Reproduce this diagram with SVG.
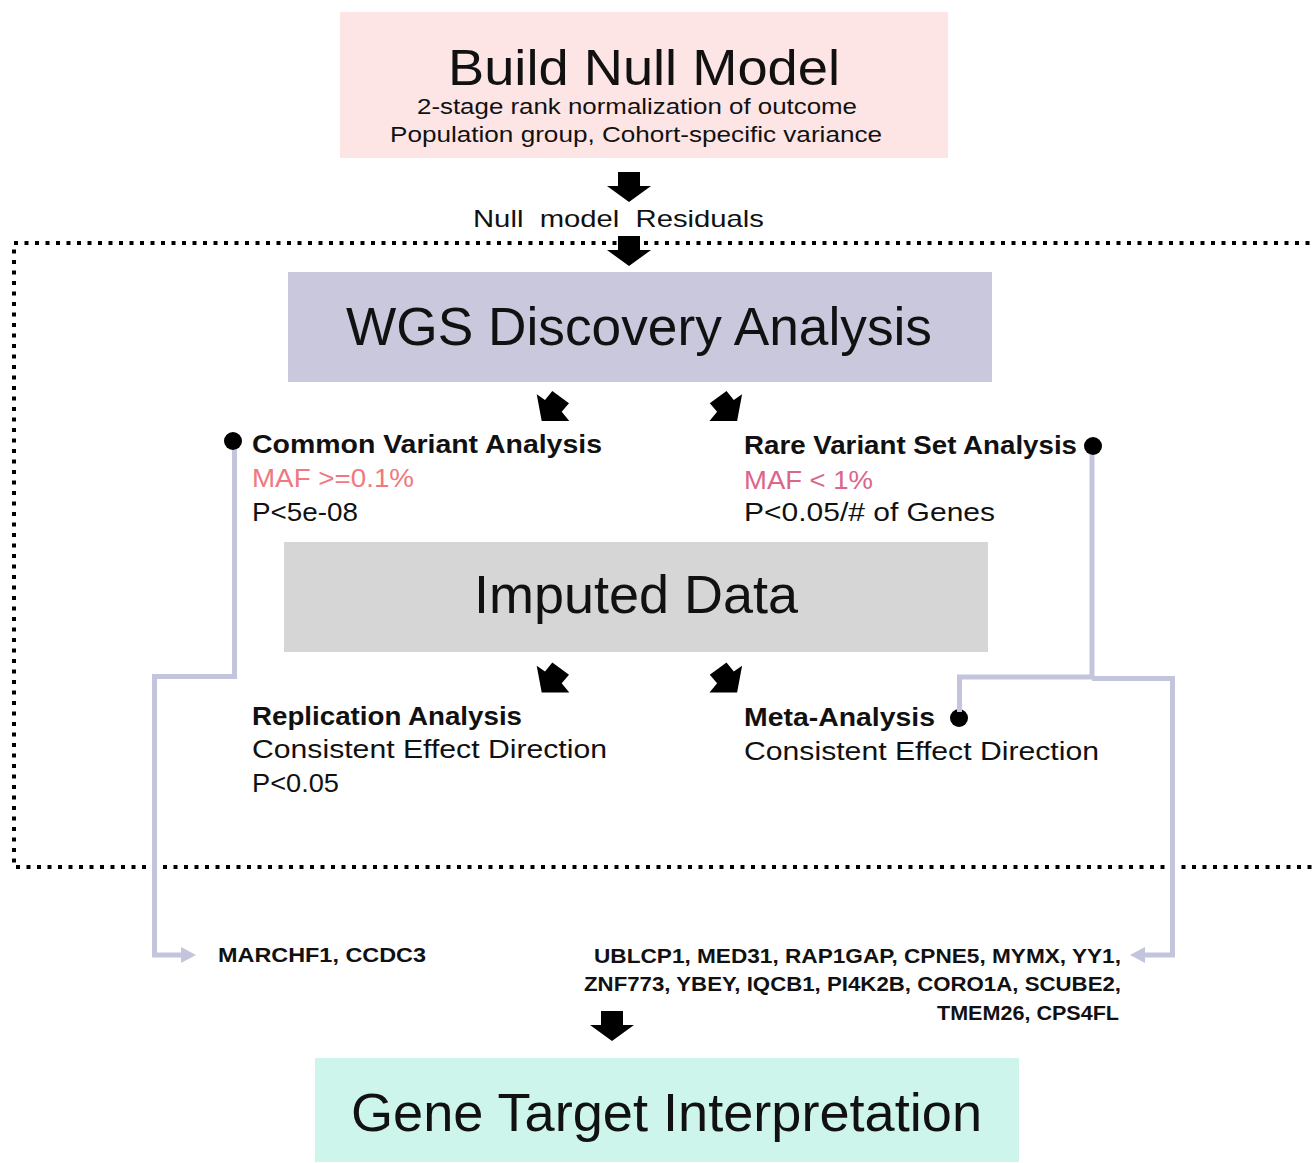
<svg xmlns="http://www.w3.org/2000/svg" width="1312" height="1163" viewBox="0 0 1312 1163">
  <style>
    text { font-family: "Liberation Sans", Arial, sans-serif; fill: #111; }
    .title { font-size: 53px; }
    .sub { font-size: 22px; }
    .head { font-size: 25px; font-weight: bold; }
    .body { font-size: 26px; }
    .gene { font-size: 20px; font-weight: bold; }
    .blk { fill: #000; }
    .wire { fill: none; stroke: #c2c5db; stroke-width: 5; }
    .wirehead { fill: #c2c5db; }
    .frame { fill: none; stroke: #000; stroke-width: 4; stroke-dasharray: 4 6.5; }
  </style>
  <defs>
    <!-- block arrow pointing straight down, origin at the tip -->
    <polygon id="downArrow" points="-11,-30 11,-30 11,-16 22,-16 0,0 -22,-16 -11,-16"/>
    <!-- stubby arrow tilted down-left -->
    <polygon id="tiltLeft" points="541.7,421 536.7,394.3 545,400 552.3,391 569,403.3 561.7,411.7 569.3,421"/>
  </defs>

  <rect width="1312" height="1163" fill="#fff"/>

  <!-- dotted frame around the discovery / imputation stage -->
  <path class="frame" d="M1320,243 H14 V867 H1320"/>

  <g id="null-model">
    <rect x="340" y="12" width="608" height="146" fill="#fde5e5"/>
    <text class="title" x="448" y="85" style="font-size:50px" textLength="392" lengthAdjust="spacingAndGlyphs">Build Null Model</text>
    <text class="sub" x="417" y="114" textLength="440" lengthAdjust="spacingAndGlyphs">2-stage rank normalization of outcome</text>
    <text class="sub" x="390" y="142" textLength="492" lengthAdjust="spacingAndGlyphs">Population group, Cohort-specific variance</text>
  </g>

  <g id="residuals-label">
    <text x="473" y="227" style="font-size:24px" textLength="291" lengthAdjust="spacingAndGlyphs" xml:space="preserve">Null  model  Residuals</text>
  </g>

  <g id="wgs">
    <rect x="288" y="272" width="704" height="110" fill="#c9c8dd"/>
    <text class="title" x="346" y="345" textLength="586" lengthAdjust="spacingAndGlyphs">WGS Discovery Analysis</text>
  </g>

  <g id="common-variant">
    <circle cx="233" cy="441" r="9" class="blk"/>
    <text class="head" x="252" y="453" textLength="350" lengthAdjust="spacingAndGlyphs">Common Variant Analysis</text>
    <text class="body" x="252" y="487" style="fill:#f07880" textLength="162" lengthAdjust="spacingAndGlyphs">MAF &gt;=0.1%</text>
    <text class="body" x="252" y="521" textLength="106" lengthAdjust="spacingAndGlyphs">P&lt;5e-08</text>
  </g>

  <g id="rare-variant">
    <circle cx="1093" cy="446" r="9" class="blk"/>
    <text class="head" x="744" y="454" textLength="333" lengthAdjust="spacingAndGlyphs">Rare Variant Set Analysis</text>
    <text class="body" x="744" y="489" style="fill:#dc658a" textLength="129" lengthAdjust="spacingAndGlyphs">MAF &lt; 1%</text>
    <text class="body" x="744" y="521" textLength="251" lengthAdjust="spacingAndGlyphs">P&lt;0.05/# of Genes</text>
  </g>

  <g id="imputed">
    <rect x="284" y="542" width="704" height="110" fill="#d6d6d6"/>
    <text class="title" x="474" y="613" textLength="324" lengthAdjust="spacingAndGlyphs">Imputed Data</text>
  </g>

  <g id="replication">
    <text class="head" x="252" y="725" textLength="270" lengthAdjust="spacingAndGlyphs">Replication Analysis</text>
    <text class="body" x="252" y="758" textLength="355" lengthAdjust="spacingAndGlyphs">Consistent Effect Direction</text>
    <text class="body" x="252" y="792" textLength="87" lengthAdjust="spacingAndGlyphs">P&lt;0.05</text>
  </g>

  <g id="meta">
    <circle cx="959" cy="718" r="9" class="blk"/>
    <text class="head" x="744" y="726" textLength="191" lengthAdjust="spacingAndGlyphs">Meta-Analysis</text>
    <text class="body" x="744" y="760" textLength="355" lengthAdjust="spacingAndGlyphs">Consistent Effect Direction</text>
  </g>

  <g id="common-genes">
    <text class="gene" x="218" y="962" textLength="208" lengthAdjust="spacingAndGlyphs">MARCHF1, CCDC3</text>
  </g>

  <g id="rare-genes">
    <text class="gene" x="594" y="963" textLength="527" lengthAdjust="spacingAndGlyphs">UBLCP1, MED31, RAP1GAP, CPNE5, MYMX, YY1,</text>
    <text class="gene" x="584" y="991" textLength="537" lengthAdjust="spacingAndGlyphs">ZNF773, YBEY, IQCB1, PI4K2B, CORO1A, SCUBE2,</text>
    <text class="gene" x="937" y="1020" textLength="182" lengthAdjust="spacingAndGlyphs">TMEM26, CPS4FL</text>
  </g>

  <g id="gene-target">
    <rect x="315" y="1058" width="704" height="104" fill="#cdf5ec"/>
    <text class="title" x="351" y="1131" textLength="631" lengthAdjust="spacingAndGlyphs">Gene Target Interpretation</text>
  </g>

  <g id="connectors">
    <!-- main flow arrows -->
    <use href="#downArrow" class="blk" transform="translate(629,202)"/>
    <use href="#downArrow" class="blk" transform="translate(629,266)"/>
    <use href="#tiltLeft" class="blk"/>
    <use href="#tiltLeft" class="blk" transform="translate(1278.8,0) scale(-1,1)"/>
    <use href="#tiltLeft" class="blk" transform="translate(0,271.5)"/>
    <use href="#tiltLeft" class="blk" transform="translate(1278.8,271.5) scale(-1,1)"/>
    <use href="#downArrow" class="blk" transform="translate(612,1041)"/>

    <!-- common variant hits routed to their gene list -->
    <path class="wire" d="M234.5,450 V676.5 H154.5 V955 H182"/>
    <polygon class="wirehead" points="181,947 196,955 181,963"/>

    <!-- rare variant hits: to meta-analysis and to their gene list -->
    <path class="wire" d="M1092,455 V677 H959.5 V712"/>
    <path class="wire" d="M1092,678.5 H1172.5 V955 H1144"/>
    <polygon class="wirehead" points="1145,947 1130,955 1145,963"/>
  </g>
</svg>
